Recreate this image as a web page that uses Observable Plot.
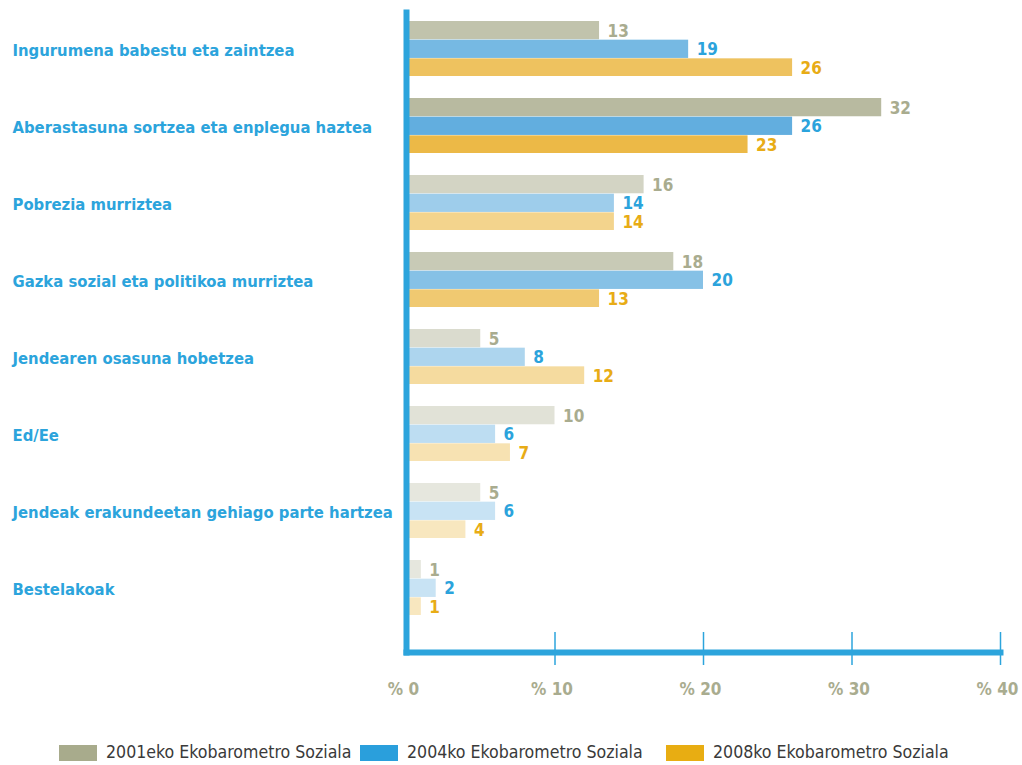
<!DOCTYPE html>
<html>
<head>
<meta charset="utf-8">
<script src="https://cdn.jsdelivr.net/npm/d3@7"></script>
<script src="https://cdn.jsdelivr.net/npm/@observablehq/plot@0.6"></script>
<style>
  body { margin: 0; background: #fff; }
  #wrap { position: relative; width: 1022px; height: 765px; overflow: hidden;
          font-family: "Liberation Sans Narrow", "DejaVu Sans Condensed", sans-serif; }
  #legend { position: absolute; left: 0; top: 744px; width: 1022px; height: 17px; }
  .item { position: absolute; top: 0; height: 17px; display: flex; align-items: center; }
  .sw { width: 38px; height: 16px; margin-right: 9px; flex: none; }
  .lab { font-size: 17.6px; color: #3a3a3a; white-space: nowrap; line-height: 17px; }
</style>
</head>
<body>
<div id="wrap">
  <div id="chart"></div>
  <div id="legend"></div>
</div>
<script>
// ---- data ----
const categories = [
  "Ingurumena babestu eta zaintzea",
  "Aberastasuna sortzea eta enplegua haztea",
  "Pobrezia murriztea",
  "Gazka sozial eta politikoa murriztea",
  "Jendearen osasuna hobetzea",
  "Ed/Ee",
  "Jendeak erakundeetan gehiago parte hartzea",
  "Bestelakoak"
];
const series = [
  "2001eko Ekobarometro Soziala",
  "2004ko Ekobarometro Soziala",
  "2008ko Ekobarometro Soziala"
];
const values2001 = [13, 32, 16, 18, 5, 10, 5, 1];
const values2004 = [19, 26, 14, 20, 8, 6, 6, 2];
const values2008 = [26, 23, 14, 13, 12, 7, 4, 1];
const xTicks = [0, 10, 20, 30, 40];

// ---- styles ----
const barColors = ["#b8baa0", "#62aedf", "#ecb947"];
const labelColors = ["#a9ac8f", "#2ba3dc", "#e8ac16"];
const legendColors = ["#a8ab8c", "#2a9fdc", "#e8ad12"];
const categoryOpacity = [0.87, 1, 0.62, 0.77, 0.52, 0.42, 0.35, 0.35];
const axisBlue = "#2ca4dc";
const font = '"Liberation Sans Narrow", "DejaVu Sans Condensed", sans-serif';
const boldSize = 17;
const catSize = 16.5;

const seriesValues = [values2001, values2004, values2008];
const rows = categories.flatMap((c, i) =>
  series.map((s, j) => ({category: c, series: s, value: seriesValues[j][i], ci: i, si: j}))
);

const yRange = [17, 619];
const yPad = 0.282;
const band = (yRange[1] - yRange[0]) / (categories.length - yPad) * (1 - yPad);
const third = band / 3;

const marks = [];
series.forEach((s, j) => {
  const data = rows.filter(d => d.si === j);
  marks.push(Plot.barX(data, {
    x: "value", y: "category",
    fill: d => d3.interpolateRgb("#ffffff", barColors[j])(categoryOpacity[d.ci]),
    insetTop: j * third, insetBottom: j < 2 ? (2 - j) * third - 0.6 : 0
  }));
  marks.push(Plot.text(data, {
    x: "value", y: "category", text: d => String(d.value),
    dx: 8, dy: (j - 1) * third + 1, textAnchor: "start",
    fill: labelColors[j], fontSize: boldSize, fontWeight: "bold", fontFamily: font
  }));
});

marks.push(Plot.text(categories, {
  y: d => d, text: d => d, frameAnchor: "left", dx: -394, dy: 2,
  textAnchor: "start", fill: axisBlue, fontSize: catSize, fontWeight: "bold", fontFamily: font
}));

marks.push(Plot.axisX({
  ticks: xTicks.filter(t => t !== 0), tickSize: 33, dy: -20, label: null,
  tickFormat: () => "", stroke: axisBlue, strokeWidth: 1.5
}));
marks.push(Plot.axisX({
  ticks: xTicks, tickSize: 0, tickPadding: 30, tickFormat: d => "% " + d, label: null,
  dx: -3, fill: "#a9ac8f", fontSize: boldSize, fontWeight: "bold", fontFamily: font
}));
marks.push(Plot.frame({anchor: "left", stroke: axisBlue, strokeWidth: 6, strokeLinecap: "square"}));
marks.push(Plot.frame({anchor: "bottom", stroke: axisBlue, strokeWidth: 6, strokeLinecap: "square"}));

const chart = Plot.plot({
  width: 1022,
  height: 730,
  marginLeft: 406,
  marginRight: 22,
  marginTop: 12,
  marginBottom: 78,
  style: {fontFamily: font, background: "#fff"},
  x: {domain: [0, 40], label: null},
  y: {domain: categories, range: yRange, paddingInner: yPad, paddingOuter: 0, axis: null, label: null},
  marks
});
document.getElementById("chart").appendChild(chart);

// ---- legend ----
const legendLeft = [59, 360, 666];
const legend = document.getElementById("legend");
series.forEach((s, j) => {
  const it = document.createElement("div");
  it.className = "item";
  it.style.left = legendLeft[j] + "px";
  const sw = document.createElement("div");
  sw.className = "sw";
  sw.style.background = legendColors[j];
  const lab = document.createElement("span");
  lab.className = "lab";
  lab.textContent = s;
  it.appendChild(sw);
  it.appendChild(lab);
  legend.appendChild(it);
});
</script>
</body>
</html>
